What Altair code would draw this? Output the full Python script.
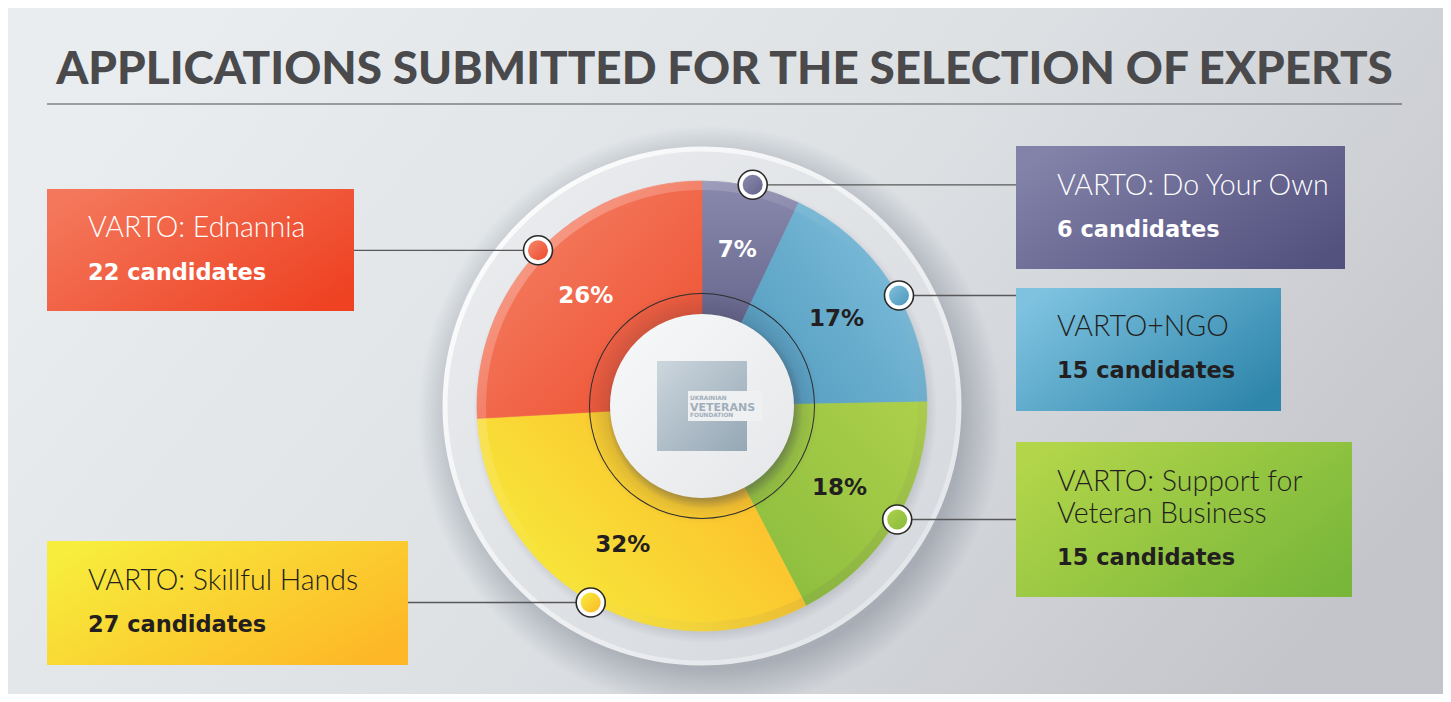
import math
import altair as alt
import pandas as pd

# ---------------- data ----------------
title = "APPLICATIONS SUBMITTED FOR THE SELECTION OF EXPERTS"
programs = ["VARTO: Do Your Own", "VARTO+NGO", "VARTO: Support for Veteran Business",
            "VARTO: Skillful Hands", "VARTO: Ednannia"]
program_lines = [["VARTO: Do Your Own"], ["VARTO+NGO"], ["VARTO: Support for", "Veteran Business"],
                 ["VARTO: Skillful Hands"], ["VARTO: Ednannia"]]
candidates = [6, 15, 15, 27, 22]
shares = ["7%", "17%", "18%", "32%", "26%"]
logo_lines = ["UKRAINIAN", "VETERANS", "FOUNDATION"]

# ---------------- style / layout ----------------
W, H = 1435, 686
CX, CY = 694, 398
R_OUT, R_IN = 225, 80
FONT = "Lato"
BOLD_FONT = "DejaVu Sans"

slice_grads = [
    ("#8a89ad", "#65648b", 0.5, 0, 0.5, 1),
    ("#80bfdc", "#4e98bc", 1, 0.2, 0, 1),
    ("#aed04a", "#88bb3d", 1, 0, 0, 1),
    ("#f6ee3c", "#fdb72a", 0, 0.8, 1, 0.2),
    ("#f5866c", "#ee4b2b", 0, 0, 1, 1),
]
box_grads = [
    ("#8382a9", "#53517e"),
    ("#7ec2e0", "#2e86ab"),
    ("#b2d54a", "#79b73a"),
    ("#f7ed3c", "#fdb727"),
    ("#f4775b", "#ee4223"),
]
text_colors = ["#ffffff", "#231f20", "#231f20", "#231f20", "#ffffff"]
# box rect (x0, y0, x1, y1), text x, baselines, marker centre, connector x-range
boxes = [
    dict(r=(1008, 138, 1337, 261), tx=1049, base=[187, 229], m=(744.7, 176.8), lx=(744.7, 1008)),
    dict(r=(1008, 280, 1273, 403), tx=1049, base=[328, 370], m=(891, 287.5), lx=(891, 1008)),
    dict(r=(1008, 434, 1344, 589), tx=1049, base=[483, 515, 557], m=(889.2, 511.5), lx=(889.2, 1008)),
    dict(r=(39, 533, 400, 657), tx=80, base=[582, 624], m=(582.7, 594.5), lx=(400, 582.7)),
    dict(r=(39, 181, 346, 303), tx=80, base=[229, 272], m=(530, 242.3), lx=(346, 530)),
]


def lin(c0, c1, x1=0, y1=0, x2=1, y2=1, mid=None):
    stops = [alt.GradientStop(color=c0, offset=0)]
    if mid is not None:
        stops.append(alt.GradientStop(color=mid, offset=0.5))
    stops.append(alt.GradientStop(color=c1, offset=1))
    return alt.LinearGradient(gradient="linear", stops=stops, x1=x1, y1=y1, x2=x2, y2=y2)


def rad(stops):
    return alt.RadialGradient(gradient="radial",
                              stops=[alt.GradientStop(color=c, offset=o) for o, c in stops],
                              x1=0.5, y1=0.5, r1=0, x2=0.5, y2=0.5, r2=0.5)


one = pd.DataFrame({"k": [0]})


def rect(x0, y0, x1, y1, fill, **kw):
    return alt.Chart(one).mark_rect(fill=fill, **kw).encode(
        x=alt.value(x0), x2=alt.value(x1), y=alt.value(y0), y2=alt.value(y1))


def disc(cx, cy, r, fill, inner=0, **kw):
    return alt.Chart(one).mark_arc(outerRadius=r, innerRadius=inner, fill=fill, **kw).encode(
        x=alt.value(cx), y=alt.value(cy), theta=alt.value(0), theta2=alt.value(2 * math.pi))


def txt(x, y, s, size, color, weight="normal", align="left", font=FONT):
    return alt.Chart(one).mark_text(text=s, font=font, fontSize=size, fontWeight=weight,
                                    color=color, align=align, baseline="alphabetic").encode(
        x=alt.value(x), y=alt.value(y))


layers = []
# background
layers.append(rect(0, 0, W, H, lin("#e9edef", "#c4c5ca", 0, 0.3, 1, 0.7, mid="#dde1e4")))
# title + rule
layers.append(txt(716.5, 76, title, 45.8, "#4a4a4c", weight=900, align="center"))
layers.append(alt.Chart(one).mark_rule(color="#4d4d4f", strokeWidth=1.2).encode(
    x=alt.value(39), x2=alt.value(1394), y=alt.value(96)))

# outer rim, shadow
layers.append(disc(CX + 8, CY + 12, 292, rad([(0, "rgba(105,112,128,0.45)"), (0.86, "rgba(105,112,128,0.40)"),
                                               (1, "rgba(105,112,128,0)")])))
layers.append(disc(CX, CY, 257, lin("#eceef0", "#d3d6db"),
                   stroke=lin("#ffffff", "#dfe2e6"), strokeWidth=5))
layers.append(disc(CX + 3, CY + 5, 232, rad([(0, "rgba(90,95,110,0.25)"), (0.93, "rgba(90,95,110,0.25)"),
                                              (1, "rgba(90,95,110,0)")])))

# donut slices (data driven)
df = pd.DataFrame({"program": programs, "candidates": candidates, "share": shares,
                   "order": list(range(len(programs)))})
total = sum(candidates)
theta_scale = alt.Scale(domain=[0, total], range=[0, 2 * math.pi])
base = alt.Chart(df).transform_window(
    cum="sum(candidates)", sort=[alt.SortField("order")], frame=[None, 0]
).transform_calculate(start="datum.cum - datum.candidates", mid="datum.cum - datum.candidates / 2")

for i, (c0, c1, x1, y1, x2, y2) in enumerate(slice_grads):
    g = lin(c0, c1, x1, y1, x2, y2)
    layers.append(base.transform_filter(alt.datum.order == i).mark_arc(
        innerRadius=R_IN, outerRadius=R_OUT, fill=g, stroke=g, strokeWidth=0.6).encode(
        theta=alt.Theta("start:Q", scale=theta_scale, stack=False), theta2="cum:Q",
        x=alt.value(CX), y=alt.value(CY)))

# bevel on the outer edge
layers.append(disc(CX, CY, R_OUT, lin("rgba(255,255,255,0.35)", "rgba(0,0,0,0.14)", 0, 0, 1, 1,
                                      mid="rgba(255,255,255,0)"), inner=R_OUT - 9))
# shade near centre disc
layers.append(disc(CX, CY, 118, rad([(0, "rgba(40,40,60,0.16)"), (0.78, "rgba(40,40,60,0.16)"),
                                     (1, "rgba(40,40,60,0)")]), inner=R_IN))
# thin circle
layers.append(disc(CX, CY, 113, "#2e2e30", inner=112))

# percentage labels
layers.append(base.mark_text(radius=160, font=BOLD_FONT, fontSize=23, fontWeight="bold",
                             baseline="middle", align="center").encode(
    theta=alt.Theta("mid:Q", scale=theta_scale, stack=False), text="share:N",
    color=alt.condition("datum.order == 0 || datum.order == 4", alt.value("#ffffff"), alt.value("#231f20")),
    x=alt.value(CX), y=alt.value(CY)))

# centre disc
layers.append(disc(CX + 3, CY + 5, 98, rad([(0, "rgba(60,65,80,0.35)"), (0.9, "rgba(60,65,80,0.3)"),
                                             (1, "rgba(60,65,80,0)")])))
layers.append(disc(CX, CY, 92, lin("#f8f9f9", "#e4e6e9")))

# logo
layers.append(rect(CX - 45, CY - 45, CX + 45, CY + 45, lin("#ccd6dd", "#95a7b5")))
layers.append(rect(CX - 14, CY - 15, CX + 60, CY + 15, "#eef0f1"))
layers.append(txt(CX - 12, CY - 6.5, logo_lines[0], 5.8, "#a0aebb", weight="bold", font=BOLD_FONT))
layers.append(txt(CX - 12, CY + 4.7, logo_lines[1], 11, "#a0aebb", weight="bold", font=BOLD_FONT))
layers.append(txt(CX - 12, CY + 10.5, logo_lines[2], 5.8, "#a0aebb", weight="bold", font=BOLD_FONT))

# label boxes, connectors, markers
for i, b in enumerate(boxes):
    c0, c1 = box_grads[i]
    x0, y0, x1, y1 = b["r"]
    layers.append(rect(x0, y0, x1, y1, lin(c0, c1, 0, 0.2, 1, 0.8)))
    lines = program_lines[i] + [f"{candidates[i]} candidates"]
    for j, line in enumerate(lines):
        last = j == len(lines) - 1
        if last:
            layers.append(txt(b["tx"], b["base"][j], line, 22.5, text_colors[i], weight="bold", font=BOLD_FONT))
        else:
            layers.append(txt(b["tx"], b["base"][j], line, 28.5, text_colors[i], weight=300))
    mx, my = b["m"]
    layers.append(alt.Chart(one).mark_rule(color="#58585a", strokeWidth=1.3).encode(
        x=alt.value(b["lx"][0]), x2=alt.value(b["lx"][1]), y=alt.value(my)))
    sc0, sc1, gx1, gy1, gx2, gy2 = slice_grads[i]
    layers.append(alt.Chart(one).mark_point(shape="circle", filled=True, size=29 * 29, fill="#ffffff",
                                            stroke="#2a2a2a", strokeWidth=1.6, opacity=1).encode(
        x=alt.value(mx), y=alt.value(my)))
    layers.append(alt.Chart(one).mark_point(shape="circle", filled=True, size=20 * 20,
                                            fill=lin(sc0, sc1, 0, 0, 1, 1), strokeWidth=0, opacity=1).encode(
        x=alt.value(mx), y=alt.value(my)))

chart = alt.layer(*layers).properties(
    width=W, height=H, padding=0, autosize=alt.AutoSizeParams(type="none"),
    background="#ffffff"
).configure_view(stroke=None)

chart.save("out.html", embed_options={"renderer": "svg", "actions": False})
